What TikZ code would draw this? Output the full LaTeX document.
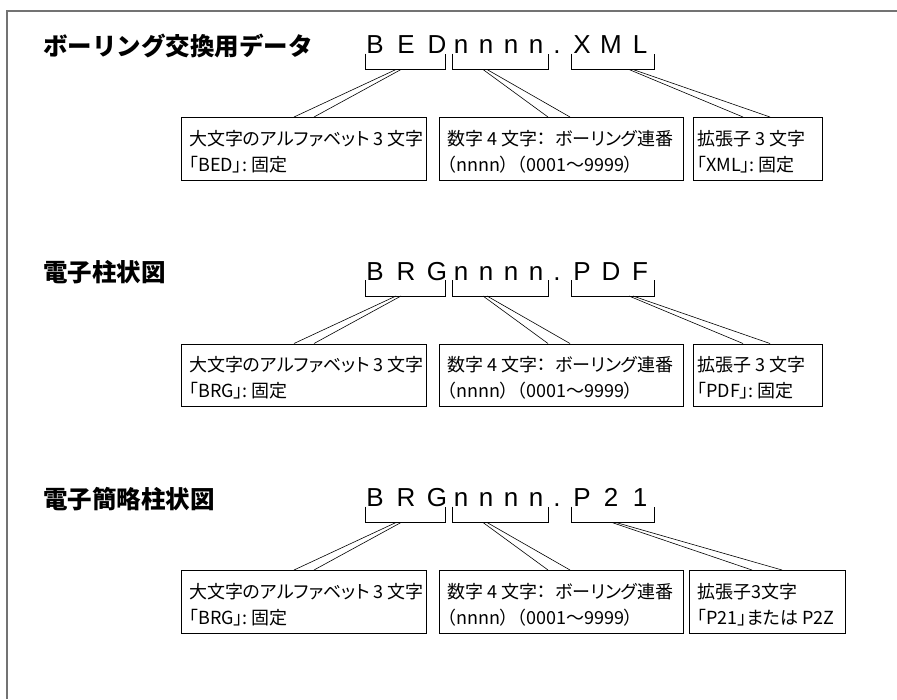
\documentclass[tikz,border=0pt]{standalone}
\usepackage{fontspec}
\setmainfont{Noto Sans CJK JP}
\newfontfamily\fnfont{Liberation Sans}
\newfontfamily\boxfont{Noto Sans CJK JP}[RawFeature=+palt]
\usetikzlibrary{calc}
\tikzset{
 frameline/.style={draw=black!55, line width=1.3pt},
 boxnode/.style={draw=black, line width=0.8pt, anchor=north west, minimum height=62.5pt, inner sep=0pt},
 brk/.style={draw=black, line width=1pt},
 callout/.style={draw=black, line width=0.6pt},
 fnchar/.style={font=\fnfont\fontsize{26}{26}\selectfont, anchor=base, inner sep=0pt},
 ttl/.style={font=\bfseries\fontsize{24.5}{26}\selectfont, anchor=west, inner sep=0pt},
 btxt/.style={font=\boxfont\fontsize{18}{20}\selectfont, anchor=base west, inner sep=0pt},
}
\newcommand\commonparts[2]{%
 \draw[brk] (365,53.5) -- (365,69.5) -- (445,69.5) -- (445,53.5);
 \draw[brk] (452,53.5) -- (452,69.5) -- (548,69.5) -- (548,53.5);
 \draw[brk] (571,53.5) -- (571,69.5) -- (654,69.5) -- (654,53.5);
 \coordinate (#1k1) at (396,69.5);
 \coordinate (#1k2) at (401,69.5);
 \coordinate (#1k3) at (483,69.5);
 \coordinate (#1k4) at (487,69.5);
 \node[boxnode, minimum width=245pt] (#1b1) at (181,117) {};
 \node[boxnode, minimum width=244pt] (#1b2) at (439,117) {};
 \node[btxt] (#1b1l1) at ($(#1b1.north west)+(8,28)$) {大文字のアルファベット 3 文字};
 \node[btxt] (#1b1l2) at ($(#1b1.north west)+(8,54)$) {「#2」: 固定};
 \node[btxt] (#1b2l1) at ($(#1b2.north west)+(8,28)$) {数字 4 文字：\hspace{9pt}ボーリング連番};
 \node[btxt] (#1b2l2) at ($(#1b2.north west)+(8,54)$) {（nnnn）\hspace{8pt}（0001～9999）};
 \draw[callout] (#1k1) -- ($(#1b1.north west)+(113,0)$);
 \draw[callout] (#1k2) -- ($(#1b1.north west)+(133,0)$);
 \draw[callout] (#1k3) -- ($(#1b2.north west)+(109,0)$);
 \draw[callout] (#1k4) -- ($(#1b2.north west)+(131,0)$);
}
\begin{document}
\begin{tikzpicture}[x=1pt,y=-1pt]
\useasboundingbox (0,0) rectangle (897,699);
\draw[frameline] (7,699) -- (7,11) -- (897,11);

% ---- section 1
\begin{scope}
 \node[ttl] (s1t) at (43,46) {ボーリング交換用データ};
 \foreach \ch/\x [count=\i] in {B/375,E/406,D/437,n/461,n/486,n/511,n/536,./557,X/582,M/611,L/640}
   \node[fnchar] (s1c\i) at (\x,53.5) {\ch};
 \commonparts{s1}{BED}
 \coordinate (s1k5) at (629,69.5);
 \coordinate (s1k6) at (633,69.5);
 \node[boxnode, minimum width=129pt] (s1b3) at (693,117) {};
 \node[btxt] (s1b3l1) at ($(s1b3.north west)+(4,28)$) {拡張子 3 文字};
 \node[btxt] (s1b3l2) at ($(s1b3.north west)+(4,54)$) {「XML」: 固定};
 \draw[callout] (s1k5) -- ($(s1b3.north west)+(50,0)$);
 \draw[callout] (s1k6) -- ($(s1b3.north west)+(77,0)$);
\end{scope}

% ---- section 2
\begin{scope}[shift={(0,226.5)}]
 \node[ttl] (s2t) at (43,46) {電子柱状図};
 \foreach \ch/\x [count=\i] in {B/375,R/406,G/437,n/461,n/486,n/511,n/536,./557,P/582,D/611,F/640}
   \node[fnchar] (s2c\i) at (\x,53.5) {\ch};
 \commonparts{s2}{BRG}
 \coordinate (s2k5) at (629,69.5);
 \coordinate (s2k6) at (633,69.5);
 \node[boxnode, minimum width=129pt] (s2b3) at (693,117) {};
 \node[btxt] (s2b3l1) at ($(s2b3.north west)+(4,28)$) {拡張子 3 文字};
 \node[btxt] (s2b3l2) at ($(s2b3.north west)+(4,54)$) {「PDF」: 固定};
 \draw[callout] (s2k5) -- ($(s2b3.north west)+(50,0)$);
 \draw[callout] (s2k6) -- ($(s2b3.north west)+(77,0)$);
\end{scope}

% ---- section 3
\begin{scope}[shift={(0,453)}]
 \node[ttl] (s3t) at (43,46) {電子簡略柱状図};
 \foreach \ch/\x [count=\i] in {B/375,R/406,G/437,n/461,n/486,n/511,n/536,./557,P/582,2/611,1/640}
   \node[fnchar] (s3c\i) at (\x,53.5) {\ch};
 \commonparts{s3}{BRG}
 \coordinate (s3k5) at (612,69.5);
 \coordinate (s3k6) at (616,69.5);
 \node[boxnode, minimum width=156pt] (s3b3) at (689,117) {};
 \node[btxt] (s3b3l1) at ($(s3b3.north west)+(8,28)$) {拡張子3文字};
 \node[btxt] (s3b3l2) at ($(s3b3.north west)+(8,54)$) {「P21」または P2Z};
 \draw[callout] (s3k5) -- ($(s3b3.north west)+(63,0)$);
 \draw[callout] (s3k6) -- ($(s3b3.north west)+(93,0)$);
\end{scope}
\end{tikzpicture}
\end{document}
